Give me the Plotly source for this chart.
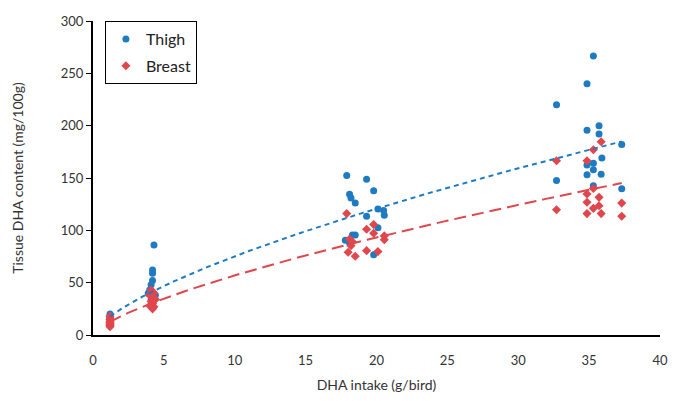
import numpy as np
import plotly.graph_objects as go

# Thigh data (DHA intake g/bird, tissue DHA mg/100g)
thigh_x = [1.2, 1.2, 1.2, 1.2, 1.2, 1.2, 1.2,
           4.3, 4.2, 4.2, 4.2, 4.1, 4.0, 3.9, 4.4, 4.2, 4.1, 4.2,
           17.9, 19.3, 18.1, 19.8, 18.2, 18.5, 20.1, 20.5, 20.55, 19.3, 20.1, 18.3, 18.5, 17.8, 18.1, 19.8,
           35.3, 34.85, 32.7, 34.85, 35.7, 35.7, 37.3, 35.9, 34.85, 35.3, 35.3, 34.85, 35.85, 32.7, 35.3, 37.3]
thigh_y = [20, 18, 17, 16, 15, 14, 13,
           86, 62, 59, 52, 48, 43, 40, 38, 37, 34, 31,
           152.5, 148.8, 134.4, 137.8, 131, 126, 120.3, 119, 114.4, 113.4, 102.5, 95.6, 95.6, 90.6, 88, 76.6,
           266.5, 240, 220, 195.6, 200, 192, 182, 169, 162.5, 164, 158, 153, 153.5, 147.5, 142.5, 139.7]

# Breast data
breast_x = [1.2, 1.2, 1.2, 1.2, 1.2, 1.2, 1.2, 1.2,
            4.1, 4.2, 4.3, 4.0, 4.2, 4.4, 4.1, 4.2, 4.0, 4.3, 4.2,
            17.9, 19.3, 19.8, 19.8, 20.55, 20.55, 18.1, 18.3, 18.2, 18.0, 19.3, 20.1, 18.5,
            35.85, 35.3, 32.7, 34.85, 35.3, 34.85, 35.7, 34.85, 37.3, 35.7, 35.3, 32.7, 34.85, 35.85, 37.3]
breast_y = [18, 15, 13, 12, 11, 10, 9, 8,
            43, 41, 40, 38, 36, 34, 32, 30, 28, 27, 25,
            116, 101, 105.6, 97.2, 94.7, 91, 91.6, 89, 85.3, 79, 80.6, 79.7, 75.3,
            184.7, 177, 166.5, 166.5, 140, 134.7, 131.5, 126.8, 126, 123.5, 121, 119.7, 116, 116, 113.4]

x_ticks = [0, 5, 10, 15, 20, 25, 30, 35, 40]
y_ticks = [0, 50, 100, 150, 200, 250, 300]

BLUE = "#1F7BC1"
RED = "#E0474C"


def power_fit(xs, ys):
    xs = np.asarray(xs, float)
    ys = np.asarray(ys, float)
    b, ln_a = np.polyfit(np.log(xs), np.log(ys), 1)
    xf = np.linspace(xs.min(), xs.max(), 200)
    return xf, np.exp(ln_a) * xf ** b


fig = go.Figure()

tx, ty = power_fit(thigh_x, thigh_y)
bx, by = power_fit(breast_x, breast_y)

fig.add_trace(go.Scatter(x=thigh_x, y=thigh_y, mode="markers", name="Thigh", legendgroup="a",
                         marker=dict(symbol="circle", size=7, color=BLUE)))
fig.add_trace(go.Scatter(x=breast_x, y=breast_y, mode="markers", name="Breast", legendgroup="b",
                         marker=dict(symbol="diamond", size=7, color=RED)))
fig.add_trace(go.Scatter(x=tx, y=ty, mode="lines", showlegend=False, hoverinfo="skip",
                         line=dict(color=BLUE, width=2, dash="5px,4px")))
fig.add_trace(go.Scatter(x=bx, y=by, mode="lines", showlegend=False, hoverinfo="skip",
                         line=dict(color=RED, width=2, dash="12px,6px")))

font_family = "Lato, 'Open Sans', sans-serif"

fig.update_layout(
    width=678, height=401,
    margin=dict(l=93, r=10, t=21, b=60),
    paper_bgcolor="white", plot_bgcolor="white",
    font=dict(family=font_family, size=13, color="#333333"),
    legend=dict(x=0.021, y=1.0, xanchor="left", yanchor="top",
                bordercolor="black", borderwidth=1, bgcolor="white",
                font=dict(size=16, color="#222222"), itemsizing="trace",
                traceorder="grouped", tracegroupgap=3, itemwidth=30),
    xaxis=dict(range=[0, 40], tickvals=x_ticks, ticktext=[str(v) for v in x_ticks],
               showgrid=False, zeroline=False, showline=True, linecolor="black", linewidth=2,
               ticks="", ticklabelstandoff=12,
               title=dict(text="DHA intake (g/bird)", font=dict(size=14), standoff=14)),
    yaxis=dict(range=[0, 300], tickvals=y_ticks, ticktext=[str(v) for v in y_ticks],
               showgrid=False, zeroline=False, showline=True, linecolor="black", linewidth=2,
               ticks="outside", ticklen=5, tickcolor="black", tickwidth=1,
               title=dict(text="Tissue DHA content (mg/100g)", font=dict(size=14), standoff=34)),
)

fig.write_html("out.html",
               config={"displayModeBar": False},
               post_script="document.body.style.margin='0';document.body.style.overflow='hidden';")
